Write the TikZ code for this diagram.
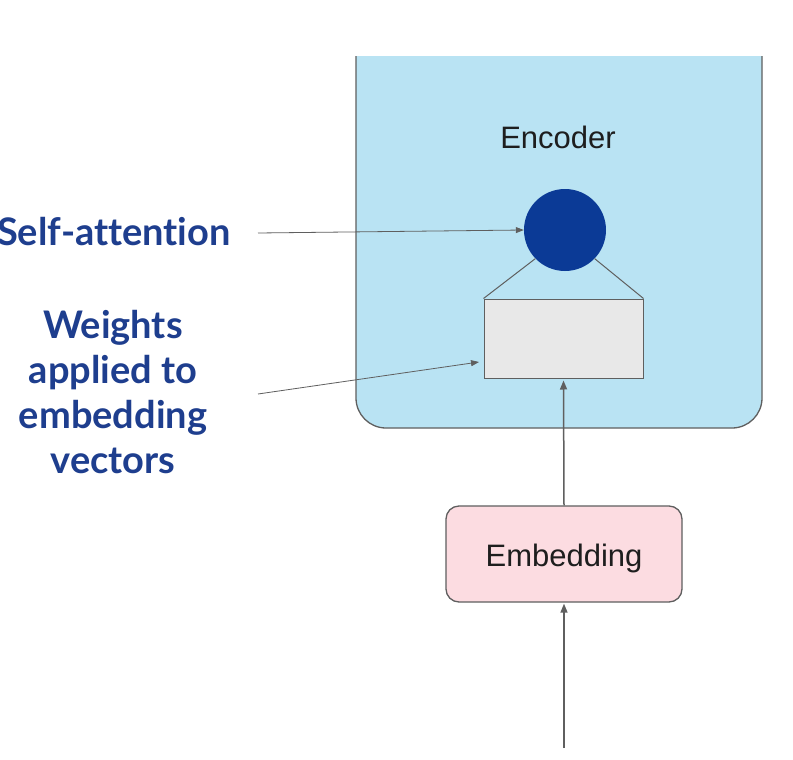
\documentclass[tikz,border=0pt]{standalone}
\usepackage{fontspec}
\setmainfont{Liberation Sans}
\newfontfamily\latofont[Ligatures={NoCommon,NoRare,NoContextual}]{Lato}
\usetikzlibrary{arrows.meta}
\definecolor{encfill}{RGB}{185,227,243}
\definecolor{edgegray}{RGB}{95,95,95}
\definecolor{dotblue}{RGB}{11,58,150}
\definecolor{labelblue}{RGB}{30,62,142}
\definecolor{wfill}{RGB}{232,232,232}
\definecolor{embfill}{RGB}{252,220,225}
\definecolor{txt}{RGB}{30,30,30}
\tikzset{
  arr/.style={draw=edgegray, line width=1.5pt, -{Triangle[length=9pt,width=7pt]}},
  thinarr/.style={draw=edgegray, line width=0.8pt, -{Triangle[length=8pt,width=6pt]}},
  sidelabel/.style={text=labelblue, font=\latofont\bfseries\fontsize{38}{45}\selectfont, align=center, inner sep=0},
  boxtext/.style={text=txt, font=\fontsize{31}{36}\selectfont, inner sep=0}
}
\begin{document}
\begin{tikzpicture}[x=1pt,y=-1pt]
\useasboundingbox (0,0) rectangle (793,760);
\fill[white] (0,0) rectangle (793,760);
% encoder container (open at top)
\begin{scope}
  \clip (0,57) rectangle (793,760);
  \draw[edgegray, line width=1.3pt, fill=encfill, rounded corners=30] (356,20) rectangle (762,428);
\end{scope}
\node[boxtext, anchor=base] (enc) at (558,148) {Encoder};
% self-attention dot and weight box
\node[circle, fill=dotblue, minimum size=82pt, inner sep=0] (sa) at (565,230) {};
\node[draw=edgegray, line width=1pt, fill=wfill, minimum width=159pt, minimum height=79pt, inner sep=0] (w) at (563.5,338.5) {};
\draw[edgegray, line width=1pt] (sa.-136) -- (w.north west);
\draw[edgegray, line width=1pt] (sa.-44) -- (w.north east);
% embedding
\node[draw=edgegray, line width=1.3pt, fill=embfill, rounded corners=13pt, minimum width=236pt, minimum height=96pt] (emb) at (564,554) {};
\node[boxtext, anchor=base] (embt) at (564,566) {Embedding};
\draw[arr, shorten >=2pt] (emb.north) -- (w.south);
\coordinate (in) at (564,748);
\draw[arr, shorten >=1pt] (in) -- (emb.south);
% side labels
\node[sidelabel, anchor=base east] (salab) at (231,245) {Self-attention};
\node[sidelabel, anchor=north] (wlab) at (113,310) {Weights\\applied to\\embedding\\vectors};
\coordinate (sastart) at (258,233);
\coordinate (wstart) at (258,394);
\coordinate (wend) at (479,362);
\draw[thinarr] (sastart) -- (sa.west);
\draw[thinarr] (wstart) -- (wend);
\end{tikzpicture}
\end{document}
